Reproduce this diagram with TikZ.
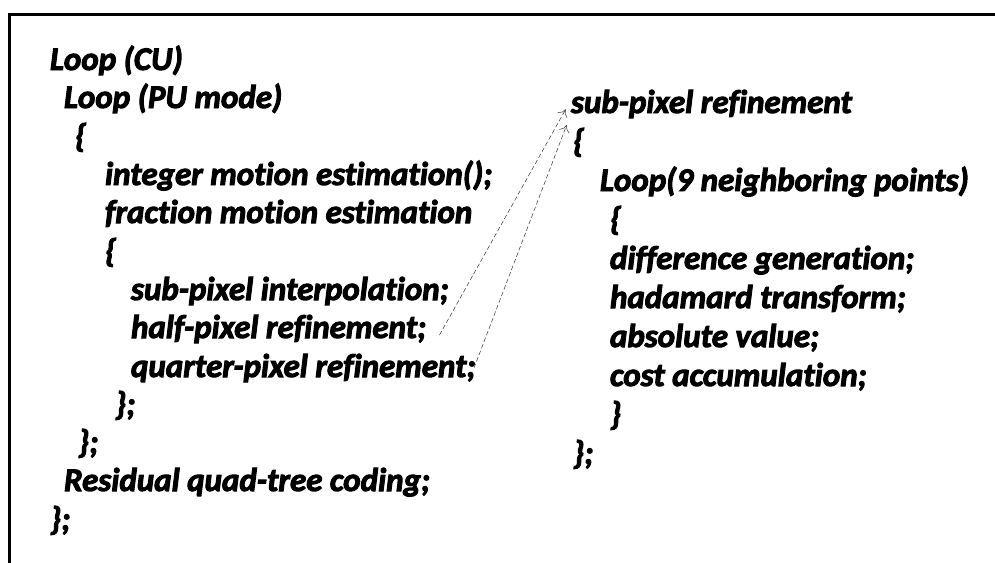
\documentclass[tikz,border=0pt]{standalone}
\usepackage{fontspec}
\setmainfont{Carlito}[Ligatures=NoCommon,BoldItalicFeatures={FakeBold=3}]
\usetikzlibrary{arrows.meta}
\begin{document}
\begin{tikzpicture}[x=1pt,y=-1pt,
  code/.style={anchor=base west,inner sep=0pt,outer sep=0pt,
    font=\fontsize{33}{39}\selectfont\bfseries\itshape},
  frame/.style={line width=2.8pt,line cap=rect},
  link/.style={draw=black!75,line width=0.55pt,dash pattern=on 4.5pt off 2.5pt,
    -{To[length=7pt,width=11pt,line width=0.55pt]}}]
\useasboundingbox (0,0) rectangle (995,562);
% open frame: top and left edges only
\draw[frame] (9.7,562) -- (9.7,14.7) -- (995,14.7);

% main coding loop
\node[code] (cu)    at (50,70)  {Loop (CU)};
\node[code] (pu)    at (64,108) {Loop (PU mode)};
\node[code] (pub)   at (75,147) {\{};
\node[code] (ime)   at (105,185) {integer motion estimation();};
\node[code] (fme)   at (105,223) {fraction motion estimation};
\node[code] (fmeb)  at (105,262) {\{};
\node[code] (interp) at (131,300) {sub-pixel interpolation;};
\node[code] (half)  at (131,338) {half-pixel refinement;};
\node[code] (quart) at (131,377) {quarter-pixel refinement;};
\node[code] (fmee)  at (115,415) {\};};
\node[code] (pue)   at (78,453) {\};};
\node[code] (rqt)   at (64,491) {Residual quad-tree coding;};
\node[code] (cue)   at (50,530) {\};};

% refinement routine
\node[code] (spr)   at (571,113) {sub-pixel refinement};
\node[code] (sprb)  at (573,152) {\{};
\node[code] (nbr)   at (600,191) {Loop(9 neighboring points)};
\node[code] (nbrb)  at (610,230) {\{};
\node[code] (diff)  at (610,269) {difference generation;};
\node[code] (had)   at (610,308) {hadamard transform;};
\node[code] (abs)   at (610,347) {absolute value;};
\node[code] (acc)   at (610,386) {cost accumulation;};
\node[code] (nbre)  at (610,425) {\}};
\node[code] (spre)  at (573,464) {\};};

% call links from the refinement steps
\coordinate (halfout)  at (439.5,335);
\coordinate (quartout) at (474,368);
\coordinate (in1) at (565.7,109.3);
\coordinate (in2) at (566.7,125);
\draw[link] (halfout) -- (in1);
\draw[link] (quartout) -- (in2);
\end{tikzpicture}
\end{document}
